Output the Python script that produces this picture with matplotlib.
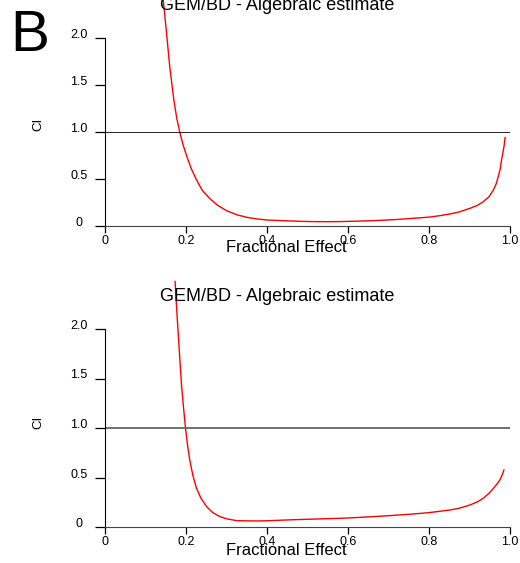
import matplotlib
matplotlib.use("Agg")
import matplotlib.pyplot as plt

plt.rcParams['font.family'] = ['Liberation Sans', 'DejaVu Sans']

# panel B, upper curve (fraction affected vs combination index)
top_fa = [0.144, 0.152, 0.160, 0.170, 0.177, 0.185, 0.193, 0.202, 0.213, 0.226,
          0.240, 0.259, 0.278, 0.300, 0.325, 0.350, 0.375, 0.399, 0.432, 0.480,
          0.510, 0.550, 0.580, 0.620, 0.679, 0.720, 0.761, 0.802, 0.827, 0.852,
          0.875, 0.901, 0.920, 0.934, 0.948, 0.959, 0.966, 0.971, 0.976, 0.979,
          0.982, 0.985, 0.988]
top_ci = [2.40, 2.05, 1.69, 1.34, 1.15, 0.99, 0.86, 0.74, 0.61, 0.49,
          0.38, 0.29, 0.22, 0.163, 0.12, 0.092, 0.075, 0.064, 0.058, 0.050,
          0.047, 0.046, 0.047, 0.051, 0.060, 0.069, 0.082, 0.095, 0.110, 0.128,
          0.150, 0.188, 0.220, 0.259, 0.310, 0.383, 0.450, 0.525, 0.610, 0.700,
          0.770, 0.840, 0.940]

# lower curve
bot_fa = [0.173, 0.177, 0.181, 0.185, 0.189, 0.194, 0.199, 0.204, 0.210, 0.217,
          0.226, 0.237, 0.251, 0.266, 0.284, 0.300, 0.325, 0.350, 0.375, 0.400,
          0.449, 0.500, 0.550, 0.600, 0.650, 0.700, 0.750, 0.800, 0.852, 0.875,
          0.901, 0.920, 0.934, 0.948, 0.959, 0.967, 0.975, 0.980, 0.985]
bot_ci = [2.48, 2.20, 1.94, 1.68, 1.43, 1.20, 0.99, 0.82, 0.66, 0.52,
          0.39, 0.29, 0.205, 0.145, 0.104, 0.083, 0.064, 0.062, 0.061, 0.063,
          0.071, 0.078, 0.084, 0.091, 0.102, 0.114, 0.128, 0.145, 0.172, 0.190,
          0.222, 0.255, 0.290, 0.340, 0.390, 0.430, 0.475, 0.520, 0.576]

xticks = [0, 0.2, 0.4, 0.6, 0.8, 1.0]
xticklabels = ['0', '0.2', '0.4', '0.6', '0.8', '1.0']
yticks = [0, 0.5, 1.0, 1.5, 2.0]
yticklabels = ['0', '0.5', '1.0', '1.5', '2.0']
title = 'GEM/BD - Algebraic estimate'

W, H = 520, 563
fig = plt.figure(figsize=(W / 100, H / 100), dpi=100)

# pixel layout of the two panels (axes bottom/top, title, xlabel, CI label)
panels = [
    dict(bot=226, top=0, ymax=226 / 94, fa=top_fa, ci=top_ci, rc='#222222', rlw=0.7,
         tb=10, xb=252, cy=124),
    dict(bot=527, top=280, ymax=247 / 99, fa=bot_fa, ci=bot_ci, rc='#666666', rlw=1.3,
         tb=301, xb=555, cy=422),
]

for p in panels:
    ax = fig.add_axes([105 / W, 1 - p['bot'] / H, 405 / W, (p['bot'] - p['top']) / H])
    ax.plot(p['fa'], p['ci'], color='#ff0000', lw=1.0, clip_on=False)
    ax.axhline(1.0, color=p['rc'], lw=p['rlw'])
    ax.set_xlim(0, 1)
    ax.set_ylim(0, p['ymax'])
    for s in ['top', 'right']:
        ax.spines[s].set_visible(False)
    ax.spines['left'].set_bounds(0, 2.0)
    ax.spines['left'].set_color('black')
    ax.spines['bottom'].set_color('#444444')
    ax.set_xticks(xticks)
    ax.set_xticklabels(xticklabels)
    ax.set_yticks(yticks)
    ax.set_yticklabels(yticklabels)
    ax.tick_params(axis='x', direction='out', length=5, width=0.9, pad=1.5, labelsize=9)
    ax.tick_params(axis='y', direction='out', length=7.2, width=0.9, pad=11.5, labelsize=9)
    for lab in ax.get_yticklabels():
        lab.set_horizontalalignment('center')
        lab.set_verticalalignment('baseline')
    ax.patch.set_alpha(0)

    fig.text(277.5 / W, 1 - p['tb'] / H, title, ha='center', va='baseline', fontsize=13)
    fig.text(286 / W, 1 - p['xb'] / H, 'Fractional Effect', ha='center', va='baseline',
             fontsize=12)
    fig.text(38 / W, 1 - p['cy'] / H, 'CI', rotation=90, ha='center', va='center',
             fontsize=9.5)

fig.text(10.5 / W, 1 - 51 / H, 'B', ha='left', va='baseline', fontsize=42)

fig.savefig('out.png', dpi=100)
